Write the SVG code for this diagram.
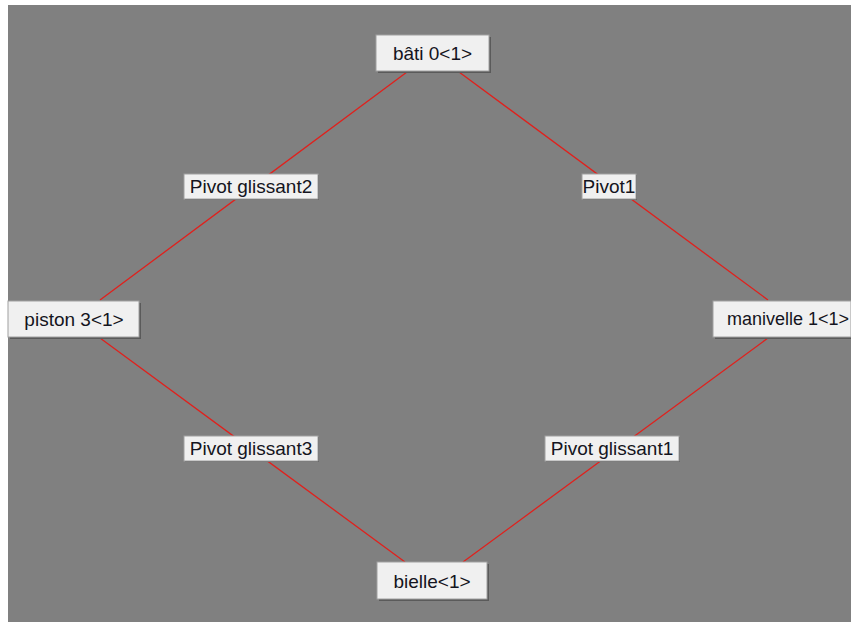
<svg xmlns="http://www.w3.org/2000/svg" width="851" height="622" viewBox="0 0 851 622">
  <style>
    .box { fill: #f0f0f0; stroke: #a0a0a0; stroke-width: 1; }
    .shadow { fill: #5a5a5a; }
    .lbl { font-family: "Liberation Sans", Arial, sans-serif; font-size: 19px; fill: #141420; text-anchor: middle; dominant-baseline: central; }
    .link { stroke: #e0201c; stroke-width: 1.3; fill: none; }
  </style>
  <!-- window frame -->
  <rect x="0" y="0" width="851" height="622" fill="#ffffff"/>
  <rect x="8" y="5" width="843" height="617" fill="#808080"/>

  <!-- connectors -->
  <g id="connectors">
    <line class="link" x1="407" y1="72" x2="100" y2="300"/>
    <line class="link" x1="459" y1="72" x2="768" y2="300"/>
    <line class="link" x1="100" y1="338" x2="405" y2="562"/>
    <line class="link" x1="768" y1="338" x2="463" y2="562"/>
  </g>

  <!-- bodies -->
  <g id="bati0">
    <rect class="shadow" x="378" y="37" width="113" height="36"/>
    <rect class="box" x="376" y="35" width="113" height="36"/>
    <text class="lbl" x="432.5" y="53">bâti 0&lt;1&gt;</text>
  </g>
  <g id="piston3">
    <rect class="shadow" x="10" y="303" width="131" height="36"/>
    <rect class="box" x="8" y="301" width="131" height="36"/>
    <text class="lbl" x="74" y="319">piston 3&lt;1&gt;</text>
  </g>
  <g id="manivelle1">
    <rect class="shadow" x="715" y="303" width="136" height="36"/>
    <rect class="box" x="713" y="301" width="138" height="36"/>
    <text class="lbl" x="788" y="319" style="font-size:18px">manivelle 1&lt;1&gt;</text>
  </g>
  <g id="bielle">
    <rect class="shadow" x="379" y="564" width="110" height="37"/>
    <rect class="box" x="377" y="562" width="110" height="37"/>
    <text class="lbl" x="432" y="581">bielle&lt;1&gt;</text>
  </g>

  <!-- joint labels -->
  <g id="pivotGlissant2">
    <rect class="shadow" x="185" y="175" width="134" height="25"/>
    <rect class="box" x="184" y="174" width="134" height="25"/>
    <text class="lbl" x="251" y="186.5">Pivot glissant2</text>
  </g>
  <g id="pivot1">
    <rect class="shadow" x="583" y="175" width="54" height="25"/>
    <rect class="box" x="582" y="174" width="54" height="25"/>
    <text class="lbl" x="609" y="186.5">Pivot1</text>
  </g>
  <g id="pivotGlissant3">
    <rect class="shadow" x="185" y="437" width="134" height="25"/>
    <rect class="box" x="184" y="436" width="134" height="25"/>
    <text class="lbl" x="251" y="448.5">Pivot glissant3</text>
  </g>
  <g id="pivotGlissant1">
    <rect class="shadow" x="546" y="437" width="134" height="25"/>
    <rect class="box" x="545" y="436" width="134" height="25"/>
    <text class="lbl" x="612" y="448.5">Pivot glissant1</text>
  </g>
</svg>
